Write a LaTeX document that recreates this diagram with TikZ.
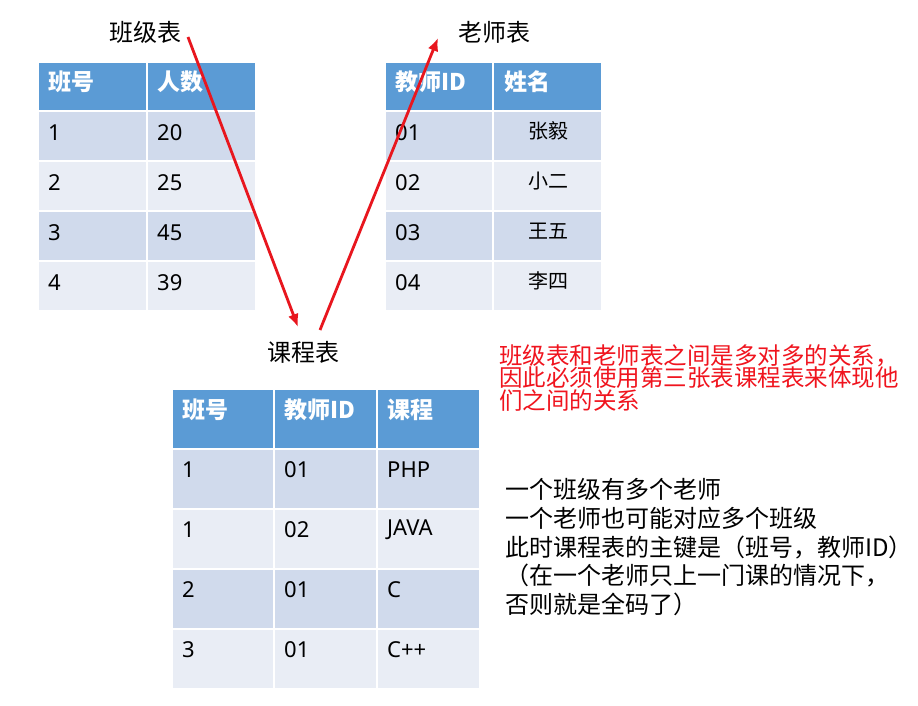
\documentclass[tikz,border=0pt]{standalone}
\usepackage{fontspec}
\setmainfont{Noto Sans CJK SC}
\newfontfamily\latinfont{Noto Sans}
\usetikzlibrary{arrows.meta}
\definecolor{hblue}{HTML}{5B9BD5}
\definecolor{bandA}{HTML}{D0DAEC}
\definecolor{bandB}{HTML}{E9EDF5}
\definecolor{arrred}{HTML}{E8161E}
\definecolor{txtred}{HTML}{F0141E}
\tikzset{
  cellbox/.style={draw=white, line width=2.5pt, anchor=north west, inner sep=0pt, outer sep=0pt, minimum width=#1},
  hdrtxt/.style={anchor=west, inner sep=0pt, text=white, font=\fontsize{23}{26}\selectfont\bfseries},
  bodytxt/.style={anchor=west, inner sep=0pt, font=\latinfont\fontsize{22}{26}\selectfont},
  nametxt/.style={anchor=center, inner sep=0pt, font=\fontsize{20}{24}\selectfont},
  titletxt/.style={inner sep=0pt, font=\fontsize{24}{28}\selectfont},
  relarrow/.style={arrred, line width=2.8pt, -{Latex[length=13pt,width=11pt]}}
}
% name, x, y, w, h, fill
\newcommand\mkcell[6]{\node[cellbox=#4, minimum height=#5, fill=#6] (#1) at (#2,#3) {};}
\begin{document}
\begin{tikzpicture}[x=1pt,y=-1pt]
\useasboundingbox[fill=white] (0,0) rectangle (918,706);

% ---------- Table 1: 班级表 ----------
\mkcell{aH1}{38}{62}{109}{49}{hblue}
\mkcell{aH2}{147}{62}{109}{49}{hblue}
\node[hdrtxt] (aHt1) at (48,82) {班号};
\node[hdrtxt] (aHt2) at (157,82) {人数};
\foreach \i/\y/\c/\p/\q in {1/111/bandA/1/20, 2/161/bandB/2/25, 3/211/bandA/3/45, 4/261/bandB/4/39}{
  \mkcell{aR\i c1}{38}{\y}{109}{50}{\c}
  \mkcell{aR\i c2}{147}{\y}{109}{50}{\c}
  \node[bodytxt] (aT\i c1) at (48,\y+22) {\p};
  \node[bodytxt] (aT\i c2) at (157,\y+22) {\q};
}

% ---------- Table 2: 老师表 ----------
\mkcell{bH1}{385}{62}{108}{49}{hblue}
\mkcell{bH2}{493}{62}{109}{49}{hblue}
\node[hdrtxt] (bHt1) at (395,82) {教师ID};
\node[hdrtxt] (bHt2) at (504,82) {姓名};
\foreach \i/\y/\c/\p/\q in {1/111/bandA/01/张毅, 2/161/bandB/02/小二, 3/211/bandA/03/王五, 4/261/bandB/04/李四}{
  \mkcell{bR\i c1}{385}{\y}{108}{50}{\c}
  \mkcell{bR\i c2}{493}{\y}{109}{50}{\c}
  \node[bodytxt] (bT\i c1) at (395,\y+22) {\p};
  \node[nametxt] (bT\i c2) at (548,\y+20) {\q};
}

% ---------- Table 3: 课程表 ----------
\mkcell{cH1}{172}{389}{102}{60}{hblue}
\mkcell{cH2}{274}{389}{103}{60}{hblue}
\mkcell{cH3}{377}{389}{103}{60}{hblue}
\node[hdrtxt] (cHt1) at (182,410) {班号};
\node[hdrtxt] (cHt2) at (284,410) {教师ID};
\node[hdrtxt] (cHt3) at (387,410) {课程};
\foreach \i/\y/\c/\p/\q/\r in {1/449/bandA/1/01/PHP, 2/509/bandB/1/02/JAVA, 3/569/bandA/2/01/C, 4/629/bandB/3/01/C++}{
  \mkcell{cR\i c1}{172}{\y}{102}{60}{\c}
  \mkcell{cR\i c2}{274}{\y}{103}{60}{\c}
  \mkcell{cR\i c3}{377}{\y}{103}{60}{\c}
  \node[bodytxt] (cT\i c1) at (182,\y+21) {\p};
  \node[bodytxt] (cT\i c2) at (284,\y+21) {\q};
  \node[bodytxt] (cT\i c3) at (387,\y+21) {\r};
}

% ---------- Titles ----------
\node[titletxt] (tClass) at (145,32) {班级表};
\node[titletxt] (tTeacher) at (494,32) {老师表};
\node[titletxt] (tCourse) at (303,352) {课程表};

% ---------- Arrows ----------
\coordinate (a1s) at (188,37);
\coordinate (a1e) at (298,327);
\coordinate (a2s) at (320,330);
\coordinate (a2e) at (438,38);
\draw[relarrow] (a1s) -- (a1e);
\draw[relarrow] (a2s) -- (a2e);

% ---------- Notes ----------
\node[anchor=north west, inner sep=0pt, align=left, text=txtred,
      font=\fontsize{23.5}{22.5}\selectfont] (noteRed) at (499,344)
  {班级表和老师表之间是多对多的关系，\\因此必须使用第三张表课程表来体现他\\们之间的关系};
\node[anchor=north west, inner sep=0pt, align=left,
      font=\fontsize{24}{28.8}\selectfont] (noteBlack) at (505,478)
  {一个班级有多个老师\\一个老师也可能对应多个班级\\此时课程表的主键是（班号，教师ID）\\（在一个老师只上一门课的情况下，\\否则就是全码了）};
\end{tikzpicture}
\end{document}
